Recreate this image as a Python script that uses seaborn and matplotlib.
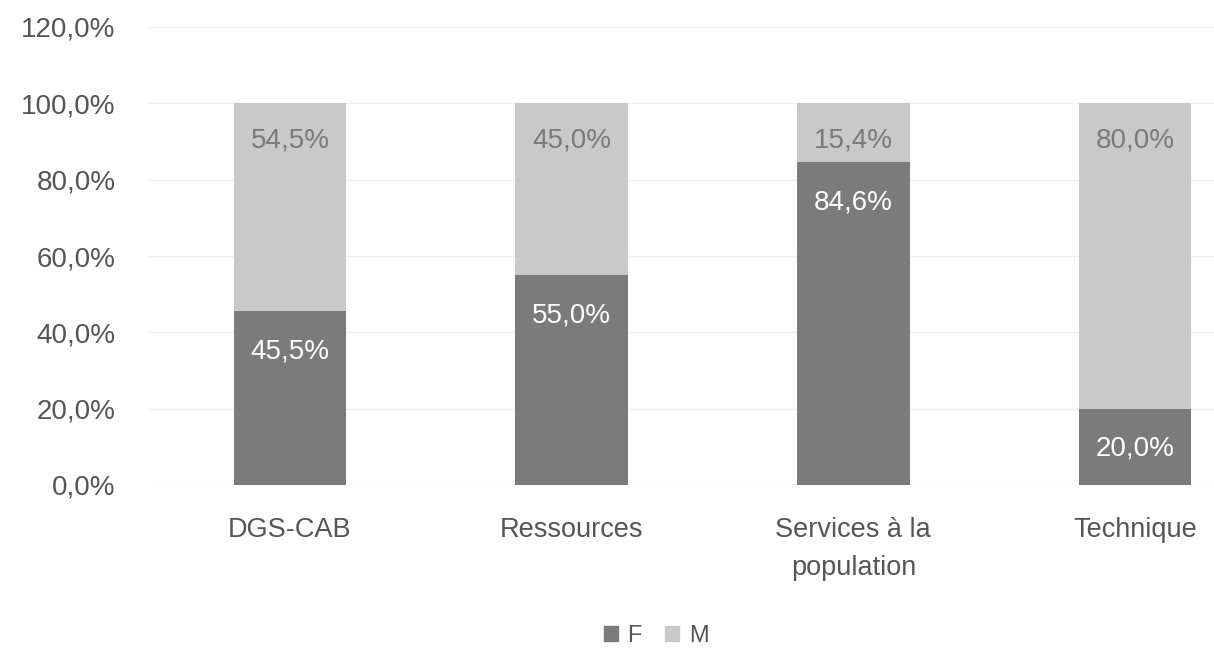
import matplotlib
matplotlib.use("Agg")
import matplotlib.pyplot as plt
import seaborn as sns
import pandas as pd
from matplotlib.ticker import FuncFormatter
from matplotlib.patches import Patch

categories = ["DGS-CAB", "Ressources", "Services à la\npopulation", "Technique"]
f_values = [45.5, 55.0, 84.6, 20.0]
m_values = [54.5, 45.0, 15.4, 80.0]
series_names = ["F", "M"]

dark = "#7b7b7b"
light = "#c9c9c9"

sns.set_theme(style="white")
plt.rcParams["font.family"] = ["Liberation Sans", "DejaVu Sans"]

df = pd.DataFrame({"cat": categories, "F": f_values, "M": m_values})
df["total"] = df["F"] + df["M"]

fig = plt.figure(figsize=(12.14, 6.5), dpi=100)
ax = fig.add_axes([149 / 1214, 1 - 485 / 650, 1 - 149 / 1214, (485 - 27) / 650])

sns.barplot(data=df, x="cat", y="total", color=light, width=0.4, saturation=1, ax=ax, linewidth=0)
sns.barplot(data=df, x="cat", y="F", color=dark, width=0.4, saturation=1, ax=ax, linewidth=0)

ax.set_ylim(0, 120)
ax.set_xlim(-0.5, 3.5 - (1276 - 1214) / 282)
ax.set_yticks([0, 20, 40, 60, 80, 100, 120])
ax.yaxis.set_major_formatter(FuncFormatter(lambda v, p: f"{v:.1f}%".replace(".", ",")))
ax.grid(axis="y", color="#efefef", linewidth=1)
ax.set_axisbelow(True)
for s in ax.spines.values():
    s.set_visible(False)
ax.tick_params(axis="y", length=0, pad=24, labelsize=20, labelcolor="#555555")
ax.tick_params(axis="x", length=0, pad=23, labelsize=19.5, labelcolor="#555555")
for t in ax.get_xticklabels():
    t.set_linespacing(1.6)
ax.set_xlabel("")
ax.set_ylabel("")

# labels
m_patches = ax.containers[0]
f_patches = ax.containers[1]
for p, v in zip(m_patches, m_values):
    x = p.get_x() + p.get_width() / 2
    ax.annotate(f"{v:.1f}%".replace(".", ","), (x, p.get_height()), xytext=(0, -27),
                textcoords="offset points", ha="center", va="center", fontsize=20, color="#7a7a7a")
for p, v in zip(f_patches, f_values):
    x = p.get_x() + p.get_width() / 2
    ax.annotate(f"{v:.1f}%".replace(".", ","), (x, p.get_height()), xytext=(0, -29),
                textcoords="offset points", ha="center", va="center", fontsize=20, color="white")

handles = [Patch(color=dark), Patch(color=light)]
fig.legend(handles, series_names, loc="center", bbox_to_anchor=(656 / 1214, 1 - 636 / 650), ncol=2,
           frameon=False, handlelength=0.6, handleheight=0.6, handletextpad=0.4, columnspacing=1.0,
           fontsize=17, labelcolor="#555555")

fig.savefig("out.png", dpi=100)
